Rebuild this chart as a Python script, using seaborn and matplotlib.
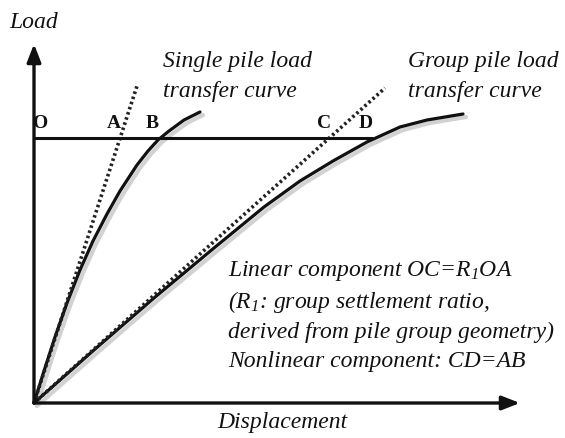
import numpy as np
import pandas as pd
import seaborn as sns
import matplotlib.pyplot as plt
import matplotlib.transforms as mtransforms

# Values (displacement, load), origin at O
single_disp = [0, 10, 21, 33, 46, 59, 73, 86, 103, 114, 124, 135, 150, 166]
single_load = [0, 32, 66, 100, 133, 162, 189, 212, 238, 252, 263, 272, 283, 291]
single_lin_disp = [0, 103]
single_lin_load = [0, 317]

group_disp = [0, 60, 120, 180, 230, 266, 299, 333, 366, 393, 429]
group_load = [0, 53, 105, 155, 196, 222, 242, 261, 276, 283, 289]
group_lin_disp = [0, 351]
group_lin_load = [0, 315]

level_load = 265
level_end = 338
points = {"O": 0, "A": 86, "B": 124, "C": 296, "D": 338}

sns.set_theme(style="white")
plt.rcParams["font.family"] = ["Liberation Serif", "DejaVu Serif"]
plt.rcParams["mathtext.fontset"] = "custom"
plt.rcParams["mathtext.rm"] = "Liberation Serif:italic"
plt.rcParams["mathtext.it"] = "Liberation Serif:italic"

fig = plt.figure(figsize=(5.65, 4.39), dpi=100)
ax = fig.add_axes([0, 0, 1, 1])
ax.set_xlim(-34, 531)
ax.set_ylim(-35, 404)
ax.axis("off")

single = pd.DataFrame({"disp": single_disp, "load": single_load})
group = pd.DataFrame({"disp": group_disp, "load": group_load})

# faint scan shadow under the curves
shadow = mtransforms.offset_copy(ax.transData, fig=fig, x=3, y=-3, units="dots")
for df in (single, group):
    sns.lineplot(data=df, x="disp", y="load", ax=ax, sort=False, estimator=None,
                 color="#d2d2d2", lw=3, transform=shadow)
    sns.lineplot(data=df, x="disp", y="load", ax=ax, sort=False, estimator=None,
                 color="#111111", lw=2.3)

for xs, ys in ((single_lin_disp, single_lin_load), (group_lin_disp, group_lin_load)):
    sns.lineplot(x=xs, y=ys, ax=ax, sort=False, estimator=None,
                 color="#222222", lw=2.6, linestyle=(0, (0.7, 0.8)))

ax.plot([0, level_end], [level_load, level_load], color="#111111", lw=2.2)

# axes with arrows
arrow = dict(arrowstyle="-|>,head_length=0.9,head_width=0.35", color="#111111",
             lw=2.4, shrinkA=0, shrinkB=0)
ax.annotate("", xy=(0, 359), xytext=(0, 0), arrowprops=arrow)
ax.annotate("", xy=(486, 0), xytext=(0, 0), arrowprops=arrow)

for name, x in points.items():
    ax.text(x + (7 if name == "O" else -6), level_load + 15, name, fontsize=14,
            fontweight="bold", ha="center", va="center", color="#111111")

it = dict(style="italic", fontsize=17, color="#111111", va="center", ha="left")
ax.text(-25, 382, "Load", **it)
ax.text(183, -19, "Displacement", **it)
ax.text(129, 342, "Single pile load", **it)
ax.text(129, 312, "transfer curve", **it)
ax.text(374, 342, "Group pile load", **it)
ax.text(374, 312, "transfer curve", **it)
ax.text(194, 133, "Linear component OC=R$_1$OA", **it)
ax.text(194, 102, "(R$_1$: group settlement ratio,", **it)
ax.text(194, 72, "derived from pile group geometry)", **it)
ax.text(194, 42, "Nonlinear component: CD=AB", **it)

fig.savefig("out.png", dpi=100)
